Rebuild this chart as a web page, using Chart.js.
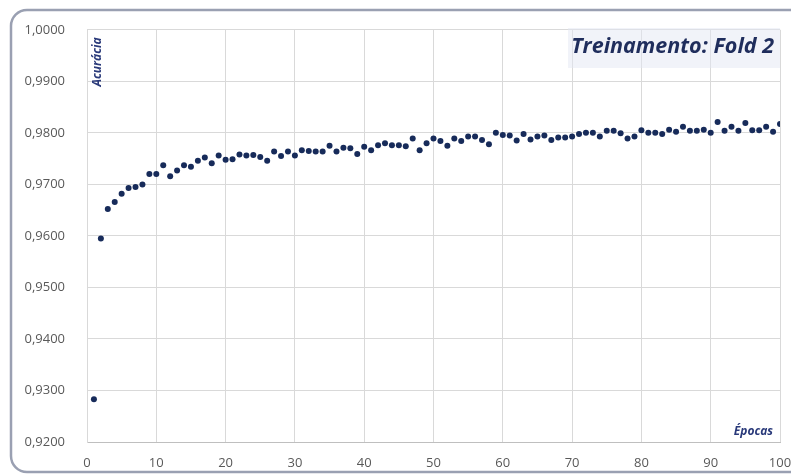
<!DOCTYPE html>
<html>
<head>
<meta charset="utf-8">
<script src="https://cdn.jsdelivr.net/npm/chart.js@4.4.1/dist/chart.umd.min.js"></script>
<style>
  html, body { margin: 0; padding: 0; background: #ffffff; }
  #wrap { width: 791px; height: 475px; position: relative; }
</style>
</head>
<body>
<div id="wrap"><canvas id="c" width="791" height="475"></canvas></div>
<script>
// ---- data ----
const epochs = Array.from({length: 100}, (_, i) => i + 1);
const accuracy = [
  0.9283, 0.9595, 0.9652, 0.9666, 0.9682, 0.9693, 0.9695, 0.9700, 0.9720, 0.9720,
  0.9737, 0.9716, 0.9727, 0.9737, 0.9734, 0.9746, 0.9752, 0.9741, 0.9756, 0.9748,
  0.9749, 0.9758, 0.9756, 0.9757, 0.9753, 0.9746, 0.9764, 0.9755, 0.9764, 0.9756,
  0.9766, 0.9765, 0.9764, 0.9764, 0.9775, 0.9764, 0.9771, 0.9770, 0.9759, 0.9773,
  0.9766, 0.9776, 0.9780, 0.9776, 0.9776, 0.9774, 0.9789, 0.9766, 0.9780, 0.9789,
  0.9784, 0.9775, 0.9789, 0.9784, 0.9793, 0.9793, 0.9786, 0.9778, 0.9800, 0.9796,
  0.9795, 0.9785, 0.9798, 0.9787, 0.9793, 0.9795, 0.9786, 0.9791, 0.9791, 0.9793,
  0.9798, 0.9800, 0.9800, 0.9793, 0.9804, 0.9804, 0.9799, 0.9789, 0.9793, 0.9805,
  0.9800, 0.9800, 0.9798, 0.9806, 0.9802, 0.9812, 0.9804, 0.9804, 0.9806, 0.9800,
  0.9821, 0.9804, 0.9812, 0.9804, 0.9819, 0.9805, 0.9805, 0.9812, 0.9802, 0.9817
];
const xTicks = [0, 10, 20, 30, 40, 50, 60, 70, 80, 90, 100];
const yTicks = [0.92, 0.93, 0.94, 0.95, 0.96, 0.97, 0.98, 0.99, 1.00];
const chartTitle = 'Treinamento: Fold 2';
const yAxisTitle = 'Acurácia';
const xAxisTitle = 'Épocas';

const NAVY = '#1f2d5c';
const POINT = '#172b5a';
const TICK = '#595959';
const GRID = '#d9d9d9';

const framePlugin = {
  id: 'frame',
  beforeDraw(chart) {
    const ctx = chart.ctx;
    ctx.save();
    ctx.fillStyle = '#ffffff';
    ctx.fillRect(0, 0, chart.width, chart.height);
    ctx.beginPath();
    ctx.roundRect(11, 10, 800, 462, 16);
    ctx.lineWidth = 2.5;
    ctx.strokeStyle = '#9aa0b2';
    ctx.stroke();
    ctx.restore();
  }
};

const labelsPlugin = {
  id: 'labelsOverlay',
  beforeDatasetsDraw(chart) {
    const ctx = chart.ctx;
    const a = chart.chartArea;
    ctx.save();
    // title box
    ctx.fillStyle = 'rgba(228,232,244,0.5)';
    ctx.fillRect(568, 28, a.right - 568, 40);
    // title text
    ctx.font = 'italic bold 19px "Open Sans"';
    let w = ctx.measureText(chartTitle).width;
    const size = 19 * 203 / w;
    ctx.font = 'italic bold ' + size.toFixed(2) + 'px "Open Sans"';
    ctx.fillStyle = NAVY;
    ctx.textAlign = 'right';
    ctx.textBaseline = 'middle';
    ctx.fillText(chartTitle, 774, 47);
    // x axis title
    ctx.font = 'italic bold 12px "Open Sans"';
    ctx.fillStyle = '#2a3a7a';
    ctx.textAlign = 'right';
    ctx.fillText(xAxisTitle, 773, 432);
    // y axis title (rotated)
    ctx.translate(98, 62);
    ctx.rotate(-Math.PI / 2);
    ctx.textAlign = 'center';
    ctx.font = 'italic bold 12px "Open Sans"';
    ctx.fillText(yAxisTitle, 0, 0);
    ctx.restore();
  }
};

const fmt = v => Number(v).toFixed(4).replace('.', ',');

new Chart(document.getElementById('c'), {
  type: 'scatter',
  data: {
    datasets: [{
      data: epochs.map((e, i) => ({x: e, y: accuracy[i]})),
      backgroundColor: POINT,
      borderColor: POINT,
      borderWidth: 0,
      pointRadius: 3,
      pointHoverRadius: 3
    }]
  },
  options: {
    responsive: false,
    animation: false,
    devicePixelRatio: 1,
    layout: { padding: { top: 25, right: 11, left: 0, bottom: 0 } },
    plugins: { legend: { display: false }, tooltip: { enabled: false }, title: { display: false } },
    scales: {
      x: {
        type: 'linear',
        min: 0, max: 100,
        afterBuildTicks: s => { s.ticks = xTicks.map(v => ({value: v})); },
        afterFit: s => { s.height = 33; s.paddingRight = 0; s.paddingLeft = 0; },
        grid: { color: GRID, lineWidth: 1, drawTicks: false },
        border: { color: '#bfbfbf', width: 1 },
        ticks: {
          color: TICK,
          font: { family: '"Open Sans"', size: 13 },
          padding: 13,
          maxRotation: 0,
          autoSkip: false
        }
      },
      y: {
        type: 'linear',
        min: 0.92, max: 1.0,
        afterBuildTicks: s => { s.ticks = yTicks.map(v => ({value: v})); },
        afterFit: s => { s.width = 87; },
        grid: { color: GRID, lineWidth: 1, drawTicks: false },
        border: { color: GRID, width: 1 },
        ticks: {
          color: TICK,
          font: { family: '"Open Sans"', size: 13 },
          padding: 22,
          callback: v => fmt(v)
        }
      }
    }
  },
  plugins: [framePlugin, labelsPlugin]
});
</script>
</body>
</html>
